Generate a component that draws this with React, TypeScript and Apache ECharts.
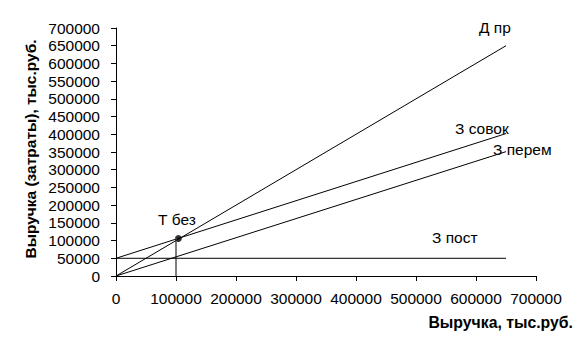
import React, { useEffect, useRef } from "react";
import * as echarts from "echarts";

const xTicks = [0, 100000, 200000, 300000, 400000, 500000, 600000, 700000];
const revenueLine: [number, number][] = [[0, 0], [650000, 650000]];
const totalCostLine: [number, number][] = [[0, 50000], [650000, 402000]];
const variableCostLine: [number, number][] = [[0, 0], [650000, 351000]];
const fixedCostLine: [number, number][] = [[0, 50000], [650000, 50000]];
const breakEvenPoint: [number, number][] = [[104000, 106000]];
const breakEvenDrop: [number, number][] = [[100000, 0], [100000, 107000]];

const FONT = "'Liberation Sans', Arial, sans-serif";

export default function App() {
  const ref = useRef<HTMLDivElement>(null);
  useEffect(() => {
    if (!ref.current) return;
    const chart = echarts.init(ref.current, null, { renderer: "svg" });
    const lineStyle = { color: "#000", width: 1 };
    const lineSeries = (name: string, data: [number, number][]) => ({
      name,
      type: "line",
      data,
      symbol: "none",
      lineStyle,
      silent: true,
    });
    const text = (t: string, x: number, y: number, bold = false, align = "left", size = 15.5) => ({
      type: "text",
      x,
      y,
      style: {
        text: t,
        fill: "#000",
        font: `${bold ? "bold " : ""}${size}px ${FONT}`,
        textAlign: align,
        textVerticalAlign: "middle",
      },
    });
    chart.setOption({
      animation: false,
      backgroundColor: "#fff",
      textStyle: { fontFamily: FONT },
      grid: { left: 116, top: 28, right: 46, bottom: 82, containLabel: false },
      xAxis: {
        type: "value",
        min: xTicks[0],
        max: xTicks[xTicks.length - 1],
        interval: 100000,
        splitLine: { show: false },
        axisLine: { show: true, lineStyle: { color: "#000", width: 1 } },
        axisTick: { show: true, length: 5, lineStyle: { color: "#000" } },
        axisLabel: {
          color: "#000",
          fontSize: 15.5,
          fontFamily: FONT,
          margin: 14,
          formatter: (v: number) => String(v),
        },
      },
      yAxis: {
        type: "value",
        min: 0,
        max: 700000,
        interval: 50000,
        splitLine: { show: false },
        axisLine: { show: true, lineStyle: { color: "#000", width: 1 } },
        axisTick: { show: true, length: 5, lineStyle: { color: "#000" } },
        axisLabel: {
          color: "#000",
          fontSize: 15.5,
          fontFamily: FONT,
          margin: 16,
          formatter: (v: number) => String(v),
        },
      },
      series: [
        {
          name: "drop",
          type: "line",
          data: breakEvenDrop,
          symbol: "none",
          lineStyle: { color: "#808080", width: 2 },
          silent: true,
        },
        lineSeries("Д пр", revenueLine),
        lineSeries("З совок", totalCostLine),
        lineSeries("З перем", variableCostLine),
        lineSeries("З пост", fixedCostLine),
        {
          name: "Т без",
          type: "scatter",
          data: breakEvenPoint,
          symbol: "circle",
          symbolSize: 7,
          itemStyle: { color: "#000" },
          silent: true,
        },
      ],
      graphic: [
        text("Д пр", 479, 27),
        text("З совок", 455, 128),
        text("З перем", 493, 149),
        text("З пост", 432, 237),
        text("Т без", 158, 219),
        text("Выручка, тыс.руб.", 573, 322, true, "right", 15.8),
        {
          type: "text",
          x: 30,
          y: 149,
          rotation: Math.PI / 2,
          style: {
            text: "Выручка (затраты), тыс.руб.",
            fill: "#000",
            font: `bold 15.5px ${FONT}`,
            textAlign: "center",
            textVerticalAlign: "middle",
          },
        },
      ],
    });
    return () => chart.dispose();
  }, []);
  return <div ref={ref} style={{ width: 582, height: 358, position: "absolute", left: 0, top: 0 }} />;
}
